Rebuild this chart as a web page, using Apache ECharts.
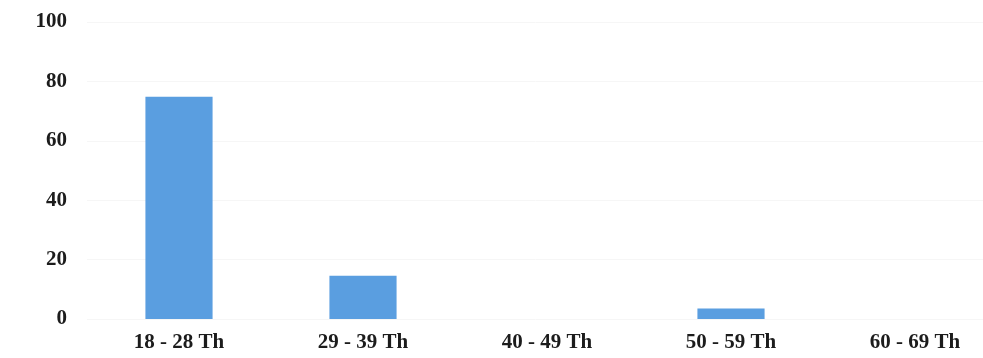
<!DOCTYPE html>
<html>
<head>
<meta charset="utf-8">
<script src="https://cdn.jsdelivr.net/npm/echarts@6/dist/echarts.min.js"></script>
<style>
  html, body { margin: 0; padding: 0; background: #fff; }
  #chart { width: 983px; height: 358px; }
</style>
</head>
<body>
<div id="chart"></div>
<script>
// data
const ageGroups = ["18 - 28 Th", "29 - 39 Th", "40 - 49 Th", "50 - 59 Th", "60 - 69 Th"];
const counts = [74.8, 14.6, 0, 3.5, 0];
const yTicks = [0, 20, 40, 60, 80, 100];

let myChart = echarts.init(document.getElementById("chart"));
let labelFont = {
  fontFamily: "Liberation Serif",
  fontWeight: "bold",
  fontSize: 21,
  color: "#1c1c1c"
};

let option = {
  animation: false,
  grid: {
    left: 87,
    width: 920, // last band runs past the right edge, as in the picture
    top: 22,
    bottom: 39,
    containLabel: false,
    outerBoundsMode: "none"
  },
  xAxis: {
    type: "category",
    data: ageGroups,
    axisLine: { show: false },
    axisTick: { show: false },
    axisLabel: Object.assign({ margin: 13 }, labelFont)
  },
  yAxis: {
    type: "value",
    min: yTicks[0],
    max: yTicks[yTicks.length - 1],
    interval: 20,
    axisLine: { show: false },
    axisTick: { show: false },
    splitLine: { show: true, lineStyle: { color: "#f6f6f6", width: 1 } },
    axisLabel: Object.assign({ margin: 20, padding: [5, 0, 0, 0] }, labelFont)
  },
  series: [
    {
      type: "bar",
      data: counts,
      barWidth: "36.5%",
      itemStyle: { color: "#5A9EE0" }
    }
  ]
};

myChart.setOption(option);
</script>
</body>
</html>
